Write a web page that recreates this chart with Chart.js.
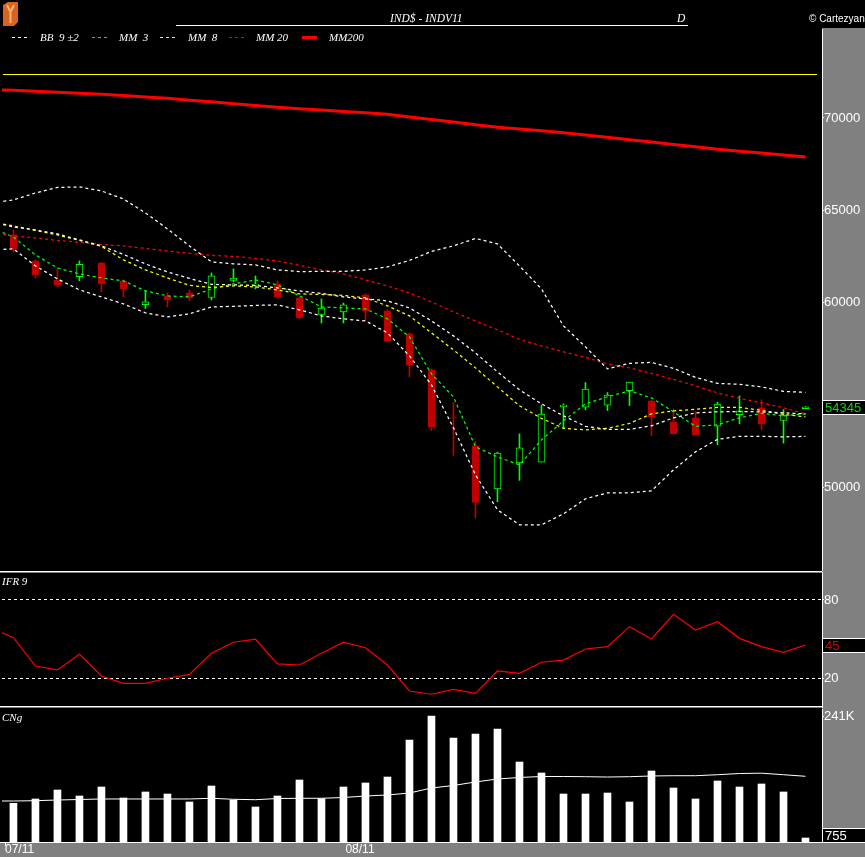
<!DOCTYPE html>
<html>
<head>
<meta charset="utf-8">
<title>IND$ - INDV11</title>
<script src="https://cdn.jsdelivr.net/npm/chart.js@4/dist/chart.umd.min.js"></script>
<style>
html, body { margin: 0; padding: 0; background: #000; width: 865px; height: 857px; overflow: hidden; }
canvas { position: absolute; left: 0; display: block; }
#cPrice { top: 0; }
#cIfr { top: 571px; }
#cVol { top: 708px; }
.t { position: absolute; color: #fff; white-space: pre; z-index: 2; }
.ser { font-family: 'Liberation Serif', 'DejaVu Serif', serif; font-style: italic; font-size: 11.5px; line-height: 12px; }
.leg { font-family: 'Liberation Serif', 'DejaVu Serif', serif; font-style: italic; font-size: 11px; line-height: 11px; top: 32px; }
.pan { font-family: 'Liberation Serif', 'DejaVu Serif', serif; font-style: italic; font-size: 11px; line-height: 11px; left: 2px; }
.smp { position: absolute; top: 37px; height: 1px; width: 15px; z-index: 2; }
</style>
</head>
<body>
<canvas id="cPrice" width="865" height="571"></canvas>
<canvas id="cIfr" width="865" height="137"></canvas>
<canvas id="cVol" width="865" height="149"></canvas>

<svg class="t" style="left:3px;top:2px" width="16" height="24" viewBox="0 0 16 24">
  <polygon points="0,3 5,0 15,0 15,20 11,24 0,24" fill="#d8641e"/>
  <path d="M4,3 L7.5,10 L11,3 M7.5,10 L7.5,21" stroke="#f6b37a" stroke-width="2" fill="none"/>
</svg>
<div class="t ser" style="left:390px;top:12px">IND$ - INDV11</div>
<div class="t ser" style="left:677px;top:12px">D</div>
<div class="t" style="left:176px;top:25px;width:512px;height:1px;background:#fff"></div>
<div class="t" style="left:809px;top:14px;font-family:'Liberation Sans',Arial,sans-serif;font-size:10px;line-height:10px">© Cartezyan</div>

<div class="smp" style="left:12px;background:repeating-linear-gradient(90deg,#fff 0 3px,transparent 3px 6px)"></div>
<div class="t leg" style="left:40px">BB  9 ±2</div>
<div class="smp" style="left:92px;background:repeating-linear-gradient(90deg,#00ff00 0 3px,transparent 3px 6px)"></div>
<div class="t leg" style="left:119px">MM  3</div>
<div class="smp" style="left:160px;background:repeating-linear-gradient(90deg,#ffff00 0 3px,transparent 3px 6px)"></div>
<div class="t leg" style="left:188px">MM  8</div>
<div class="smp" style="left:229px;background:repeating-linear-gradient(90deg,#ff0000 0 3px,transparent 3px 6px)"></div>
<div class="t leg" style="left:256px">MM 20</div>
<div class="smp" style="left:302px;top:36px;height:3px;background:#ff0000"></div>
<div class="t leg" style="left:329px">MM200</div>

<div class="t pan" style="top:576px">IFR 9</div>
<div class="t pan" style="top:712px">CNg</div>

<script>
// x positions are candle indexes; the indicator lines start one step before the first candle
const lineStart = -1;
const monthLabels = ['07/11', '08/11'];
const monthStartIdx = [0, 16];

const openP  = [63662, 62254, 61225, 61404, 62146, 61170, 59886, 60358, 60520, 60270, 61192, 60943, 61008, 60250, 59351, 59490, 60412, 59546, 58300, 56349, 53770, 52233, 49900, 51300, 51350, 54361, 54329, 54437, 55228, 54670, 53532, 53749, 53299, 53928, 54291, 53603, 54250];
const highP  = [63933, 62308, 61875, 62254, 62170, 61225, 60629, 60520, 60683, 61604, 61820, 61441, 61170, 60300, 60195, 59978, 60466, 59600, 58350, 56400, 54580, 52470, 51890, 52880, 54440, 54507, 55661, 55119, 55683, 54690, 54220, 54090, 54599, 54941, 54724, 54199, 54345];
const lowP   = [62741, 61333, 60846, 61170, 60590, 60316, 59670, 59760, 60087, 60141, 61116, 60737, 60250, 59112, 58890, 58890, 59003, 57880, 55970, 53060, 51717, 48332, 49200, 50360, 51350, 53191, 54182, 54144, 54415, 52790, 52880, 52810, 52286, 53424, 53099, 52378, 54250];
const closeP = [62904, 61495, 60954, 62075, 61008, 60737, 60033, 60141, 60250, 61441, 61322, 60997, 60304, 59182, 59697, 59870, 59546, 57935, 56636, 53277, 53738, 49160, 51836, 52120, 53955, 54437, 55304, 54979, 55683, 53819, 52898, 52828, 54491, 54128, 53440, 53874, 54345];

const bbUpper = [65395, 65558, 65937, 66235, 66262, 66046, 65612, 64854, 63987, 63066, 62200, 62091, 62037, 61766, 61674, 61685, 61685, 61766, 61929, 62281, 62768, 63066, 63472, 63174, 61983, 60737, 58733, 57595, 56403, 56701, 56755, 56430, 55943, 55618, 55564, 55428, 55184, 55130];
const bbMid   = [64366, 64095, 63933, 63716, 63391, 63066, 62606, 62091, 61658, 61306, 60981, 60954, 60926, 60791, 60628, 60493, 60303, 60195, 60087, 59708, 59003, 58191, 57270, 56241, 55266, 54507, 53857, 53289, 53126, 53126, 53316, 53749, 54020, 54074, 54090, 54074, 54020, 53966];
const bbLower = [62850, 62904, 61983, 61279, 60683, 60303, 59924, 59437, 59220, 59383, 59762, 59789, 59843, 59870, 59599, 59274, 59112, 59003, 58353, 57107, 55537, 53207, 50661, 48765, 47953, 47953, 48549, 49361, 49686, 49686, 49794, 50932, 51907, 52584, 52747, 52747, 52720, 52747];
const mm3   = [64041, 63554, 62579, 61874, 61549, 61333, 61170, 60628, 60358, 60303, 60737, 61008, 61224, 60954, 60358, 59762, 59708, 59653, 59112, 58137, 56132, 54886, 52178, 51636, 51203, 52557, 53586, 54507, 54886, 55211, 54832, 54074, 53289, 53370, 53749, 53993, 53857, 53966];
const mm8   = [64366, 64150, 63906, 63662, 63364, 63039, 62308, 61766, 61333, 60926, 60818, 60899, 60845, 60683, 60466, 60439, 60385, 60249, 59816, 59274, 58353, 57432, 56457, 55428, 54399, 53722, 53180, 53099, 53180, 53451, 53966, 54128, 54209, 54318, 54318, 54155, 53939, 53803];
const mm20  = [63770, 63608, 63500, 63364, 63256, 63147, 63066, 62931, 62795, 62660, 62552, 62497, 62389, 62254, 62010, 61766, 61549, 61224, 60899, 60520, 60033, 59491, 59003, 58516, 58001, 57649, 57324, 57026, 56674, 56457, 56159, 55834, 55482, 55103, 54805, 54561, 54291, 53966];
const mm200 = [71544, 71495, 71441, 71387, 71333, 71284, 71219, 71138, 71062, 70964, 70872, 70775, 70677, 70580, 70504, 70428, 70352, 70276, 70195, 70054, 69919, 69778, 69632, 69496, 69399, 69307, 69198, 69074, 68955, 68825, 68695, 68565, 68440, 68304, 68201, 68098, 67990, 67887];
const yellowLevel = 72370;

const ifr9 = [58.5, 51, 29.2, 26.2, 38.2, 21.5, 15.9, 15.9, 19.8, 22.8, 39, 47.5, 49.8, 30.8, 30, 39, 47.5, 43.3, 30, 10, 7.5, 11.3, 8.2, 25.4, 23.6, 32.1, 33.8, 42.3, 44.1, 59.5, 50, 69, 56.9, 63.3, 50.5, 44.1, 39.8, 45.4];

const volume = [74000, 82300, 99500, 88000, 105200, 84200, 95700, 91800, 76500, 107100, 80300, 67000, 88000, 118600, 82800, 105200, 112900, 124300, 195100, 241000, 198900, 206600, 216100, 153000, 132000, 91800, 91800, 93700, 76500, 135800, 103300, 82300, 116700, 105200, 111000, 95700, 755];
const volAvg = [78400, 78400, 79000, 80300, 81300, 82300, 82300, 82300, 82300, 82300, 83600, 81700, 80900, 83200, 83600, 83600, 85100, 88000, 89900, 93700, 103300, 108100, 114800, 120500, 123400, 125300, 125300, 124900, 124300, 124900, 126300, 126800, 126800, 128700, 131000, 131600, 128700, 125700];

const priceTicks = [50000, 60000, 65000, 70000];
const ifrTicks = [20, 80];
const volTicks = [Math.max(...volume)];

const UP = '#00ff00', DOWN = '#c00000';
const X_MIN = -0.52, X_MAX = 36.75;
const FONT = "'Liberation Sans', Arial, sans-serif";

const isUp = openP.map((o, i) => closeP[i] >= o);
const candleColor = isUp.map(u => u ? UP : DOWN);
const bodyFill = isUp.map(u => u ? '#000' : DOWN);

function pts(vals, start) {
  return vals.map((v, k) => ({x: start + k, y: v}));
}

function lineSet(vals, color, width, dash) {
  return {
    type: 'line', data: pts(vals, lineStart), borderColor: color, borderWidth: width,
    borderDash: dash, pointRadius: 0, tension: 0, fill: false, order: 1
  };
}

function xAxis() {
  return {type: 'linear', min: X_MIN, max: X_MAX, display: false, offset: false};
}

function yAxis(min, max, tickVals, fmt, dashed) {
  return {
    position: 'right', min: min, max: max,
    afterBuildTicks: s => { s.ticks = tickVals.map(v => ({value: v})); },
    afterFit: s => { s.width = 43; s.paddingTop = 0; s.paddingBottom = 0; },
    ticks: {color: '#fff', padding: 0, font: {family: FONT, size: 13}, callback: fmt},
    grid: {color: '#fff', drawOnChartArea: dashed, tickLength: 2, lineWidth: 1},
    border: {display: false, dash: dashed ? [3, 3] : []}
  };
}

const panel = {
  id: 'panel',
  beforeDraw(chart, args, o) {
    const {ctx, chartArea: a, width, height} = chart;
    ctx.save();
    ctx.fillStyle = '#000';
    ctx.fillRect(0, 0, width, height);
    ctx.fillStyle = '#808080';
    ctx.fillRect(a.right, o.greyTop, width - a.right, height - o.greyTop);
    if (o.strip) ctx.fillRect(0, a.bottom + 1, width, height - a.bottom - 1);
    if (o.seps) {
      ctx.fillStyle = '#fff';
      ctx.fillRect(0, 0, a.right, 1);
      ctx.fillRect(0, height - 2, a.right, 1);
      ctx.fillStyle = '#808080';
      ctx.fillRect(0, 1, a.right, 1);
      ctx.fillRect(0, height - 1, a.right, 1);
    }
    if (o.levels) {
      ctx.strokeStyle = o.levelColor;
      ctx.lineWidth = 1;
      o.levels.forEach(v => {
        const py = Math.round(chart.scales.y.getPixelForValue(v)) + 0.5;
        ctx.beginPath();
        ctx.moveTo(a.left + 1, py);
        ctx.lineTo(a.right - 5, py);
        ctx.stroke();
      });
    }
    ctx.restore();
  },
  afterDraw(chart, args, o) {
    const {ctx, chartArea: a, width, height, scales} = chart;
    ctx.save();
    ctx.fillStyle = '#fff';
    ctx.fillRect(a.right, o.greyTop + 1, 1, (o.strip ? a.bottom + 1 : height) - o.greyTop - 1);
    if (o.strip) {
      ctx.fillRect(0, a.bottom, a.right, 1);
      ctx.font = '12px ' + FONT;
      ctx.textBaseline = 'middle';
      monthStartIdx.forEach((idx, k) => {
        const px = Math.round(scales.x.getPixelForValue(idx - 0.5)) + 3;
        ctx.fillRect(px, a.bottom + 1, 1, 3);
        ctx.textAlign = k === 0 ? 'left' : 'center';
        ctx.fillText(monthLabels[k], k === 0 ? px : px + 3, a.bottom + 8);
      });
    }
    if (o.box) {
      let py = scales.y.getPixelForValue(o.box.value);
      py = Math.min(Math.max(py, a.top + 7), a.bottom - 7);
      const top = Math.round(py) - 7;
      ctx.fillStyle = '#000';
      ctx.fillRect(a.right, top, width - a.right, 15);
      ctx.strokeStyle = '#fff';
      ctx.lineWidth = 1;
      ctx.strokeRect(a.right + 0.5, top + 0.5, width - a.right, 14);
      ctx.fillStyle = o.box.color;
      ctx.font = '13px ' + FONT;
      ctx.textAlign = 'left';
      ctx.textBaseline = 'middle';
      ctx.fillText(o.box.text, a.right + 3, top + 8);
    }
    ctx.restore();
  }
};

function baseOptions(padding, scales, panelOpts) {
  return {
    responsive: false, animation: false, devicePixelRatio: 1, events: [],
    layout: {padding: padding},
    plugins: {legend: {display: false}, tooltip: {enabled: false}, panel: panelOpts},
    scales: scales
  };
}

// price panel: candles + bollinger + moving averages
new Chart(document.getElementById('cPrice'), {
  type: 'bar',
  data: {
    datasets: [
      lineSet(mm200, '#ff0000', 3, []),
      lineSet(bbUpper, '#ffffff', 1.25, [3, 3]),
      lineSet(bbMid, '#ffffff', 1.25, [3, 3]),
      lineSet(bbLower, '#ffffff', 1.25, [3, 3]),
      lineSet(mm20, '#ff0000', 1.25, [3, 3]),
      lineSet(mm8, '#ffff00', 1.25, [3, 3]),
      lineSet(mm3, '#00ff00', 1.25, [3, 3]),
      {
        type: 'bar', data: openP.map((o, i) => ({x: i, y: [o, closeP[i]]})),
        backgroundColor: bodyFill, borderColor: candleColor, borderWidth: 1,
        borderSkipped: false, barThickness: 7, grouped: false, order: 2
      },
      {
        type: 'bar', data: lowP.map((l, i) => ({x: i, y: [l, highP[i]]})),
        backgroundColor: candleColor, borderWidth: 0, barThickness: 1, grouped: false, order: 3
      }
    ]
  },
  options: baseOptions(
    {top: 28, left: 2, right: 0, bottom: 1},
    {x: xAxis(), y: yAxis(45504, 74875, priceTicks, v => String(v), false)},
    {greyTop: 28, levels: [yellowLevel], levelColor: '#ffff00',
     box: {value: closeP[closeP.length - 1], text: String(closeP[closeP.length - 1]), color: '#00dd00'}}
  ),
  plugins: [panel]
});

// IFR 9 panel
new Chart(document.getElementById('cIfr'), {
  type: 'line',
  data: {datasets: [lineSet(ifr9, '#ff0000', 1.2, [])]},
  options: baseOptions(
    {top: 3, left: 2, right: 0, bottom: 4},
    {x: xAxis(), y: yAxis(0, 100, ifrTicks, v => String(v), true)},
    {greyTop: 0, seps: true,
     box: {value: ifr9[ifr9.length - 1], text: String(Math.round(ifr9[ifr9.length - 1])), color: '#e00000'}}
  ),
  plugins: [panel]
});

// volume panel
new Chart(document.getElementById('cVol'), {
  type: 'bar',
  data: {
    datasets: [
      {type: 'line', data: pts(volAvg, lineStart), borderColor: '#fff', borderWidth: 1, pointRadius: 0, tension: 0, order: 1},
      {type: 'bar', data: pts(volume, 0), backgroundColor: '#fff', borderWidth: 0, barThickness: 7, minBarLength: 4, grouped: false, order: 2}
    ]
  },
  options: baseOptions(
    {top: 1, left: 2, right: 0, bottom: 15},
    {x: xAxis(), y: yAxis(0, 254400, volTicks, v => Math.round(v / 1000) + 'K', false)},
    {greyTop: 0, strip: true,
     box: {value: volume[volume.length - 1], text: String(volume[volume.length - 1]), color: '#fff'}}
  ),
  plugins: [panel]
});
</script>
</body>
</html>
